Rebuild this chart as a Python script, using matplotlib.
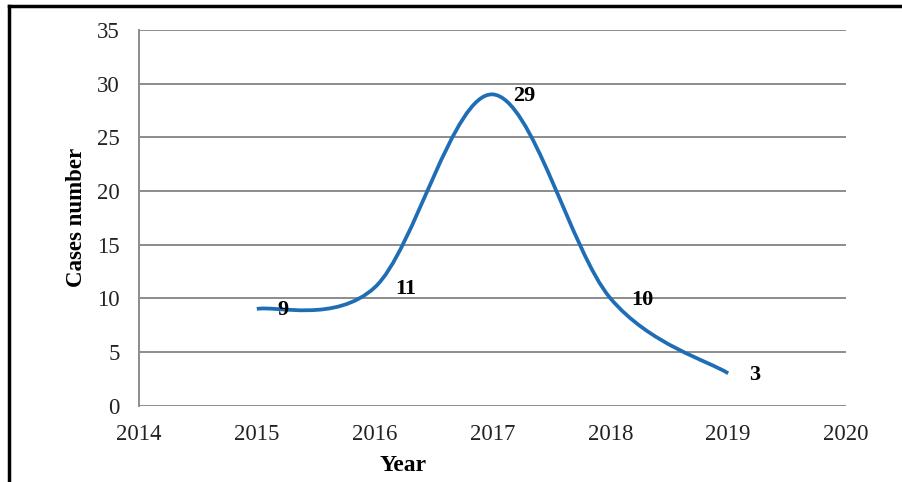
import numpy as np
import matplotlib.pyplot as plt
from matplotlib.path import Path
from matplotlib.patches import PathPatch
from matplotlib.lines import Line2D

years = [2015, 2016, 2017, 2018, 2019]
cases = [9, 11, 29, 10, 3]
xticks = [2014, 2015, 2016, 2017, 2018, 2019, 2020]
yticks = [0, 5, 10, 15, 20, 25, 30, 35]

plt.rcParams['font.family'] = ['Liberation Serif', 'DejaVu Serif']

def smooth_path(xs, ys):
    # excel style smoothed line: cubic bezier, catmull-rom like control points
    pts = np.column_stack([xs, ys]).astype(float)
    ext = np.vstack([pts[0], pts, pts[-1]])
    verts = [pts[0]]
    codes = [Path.MOVETO]
    for i in range(len(pts) - 1):
        p0, p1, p2, p3 = ext[i], ext[i+1], ext[i+2], ext[i+3]
        c1 = p1 + (p2 - p0) / 6
        c2 = p2 - (p3 - p1) / 6
        verts += [c1, c2, p2]
        codes += [Path.CURVE4] * 3
    return Path(verts, codes)

fig = plt.figure(figsize=(9.03, 4.82), dpi=100)
ax = fig.add_axes([139/903, 1-405.5/482, (846-139)/903, (405.5-30)/482])

ax.add_patch(PathPatch(smooth_path(years, cases), fill=False,
                       edgecolor='#1f6db5', lw=2.7, capstyle='butt', zorder=3))

for x, y in zip(years, cases):
    ax.annotate(str(y), (x, y), xytext=(15, -1), textcoords='offset points',
                ha='left', va='center', fontsize=16, fontweight='bold', zorder=4)

ax.set_xlim(2014, 2020)
ax.set_ylim(0, 35)
ax.set_xticks(xticks)
ax.set_yticks(yticks)
ax.tick_params(length=0, labelsize=16.5, colors='#222222')
ax.tick_params(axis='y', pad=14)
ax.tick_params(axis='x', pad=13)
ax.grid(axis='y', color='#8c8c8c', lw=1.4)
ax.set_axisbelow(True)
for s in ['top', 'right', 'bottom']:
    ax.spines[s].set_visible(False)
ax.spines['left'].set_color('#8c8c8c')
ax.spines['left'].set_linewidth(1.4)

ax.set_xlabel('Year', fontsize=17, fontweight='bold')
ax.set_ylabel('Cases number', fontsize=16.5, fontweight='bold')
ax.xaxis.set_label_coords(0.373, -0.132)
ax.yaxis.set_label_coords(-0.074, 0.5)

# outer frame (left and top only visible)
fig.add_artist(Line2D([9/903, 9/903], [0, 1-6/482], color='black', lw=2.5,
                      transform=fig.transFigure))
fig.add_artist(Line2D([9/903, 1], [1-6/482, 1-6/482], color='black', lw=2.5,
                      transform=fig.transFigure))

fig.savefig('out.png', dpi=100)
